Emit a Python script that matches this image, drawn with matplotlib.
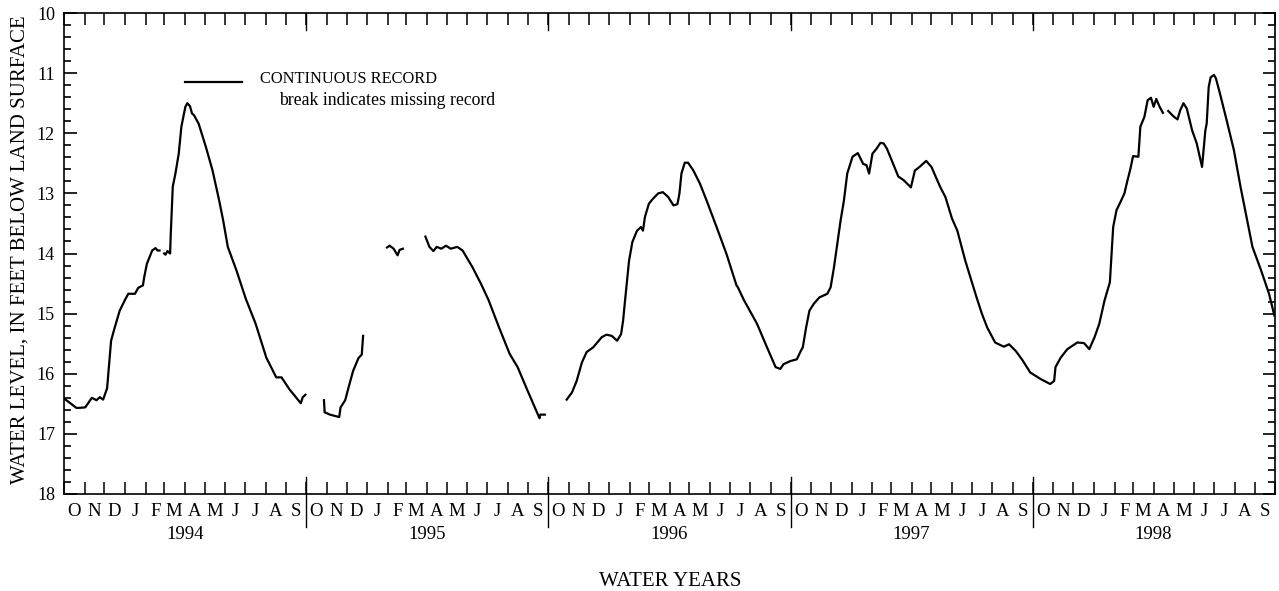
"""Ground-water level hydrograph, water years 1994-98."""

import matplotlib

matplotlib.use("Agg")
import matplotlib.dates as mdates
import matplotlib.pyplot as plt
import matplotlib.ticker as mticker
import numpy as np
import pandas as pd
from matplotlib.transforms import blended_transform_factory

nan = np.nan

# Readings (feet below land surface); nan marks missing record.
WY1994_DATES = [
    "1993-10-01", "1993-10-20", "1993-11-02", "1993-11-12", "1993-11-19", "1993-11-24",
    "1993-11-29", "1993-12-05", "1993-12-11", "1993-12-16", "1993-12-24", "1994-01-01",
    "1994-01-06", "1994-01-16", "1994-01-21", "1994-01-28", "1994-01-30", "1994-02-03",
    "1994-02-11", "1994-02-16", "1994-02-19", "1994-02-22", "1994-02-25", "1994-03-01",
    "1994-03-03", "1994-03-06", "1994-03-10", "1994-03-11", "1994-03-14", "1994-03-18",
    "1994-03-23", "1994-03-27", "1994-04-02", "1994-04-05", "1994-04-09", "1994-04-12",
    "1994-04-15", "1994-04-22", "1994-05-03", "1994-05-13", "1994-05-23", "1994-05-29",
    "1994-06-05", "1994-06-18", "1994-07-02", "1994-07-17", "1994-08-02", "1994-08-17",
    "1994-08-25", "1994-09-06", "1994-09-23", "1994-09-26", "1994-09-30",
]
WY1994_LEVELS = [
    16.41, 16.57, 16.56, 16.40, 16.44, 16.39,
    16.43, 16.24, 15.45, 15.25, 14.95, 14.77,
    14.67, 14.67, 14.57, 14.53, 14.39, 14.17,
    13.95, 13.91, 13.95, 13.95, nan, 14.00,
    14.02, 13.96, 14.00, 13.67, 12.89, 12.67,
    12.34, 11.89, 11.56, 11.50, 11.55, 11.67,
    11.70, 11.84, 12.23, 12.62, 13.12, 13.45,
    13.89, 14.28, 14.75, 15.17, 15.73, 16.06,
    16.06, 16.26, 16.49, 16.39, 16.35,
]

WY1995_DATES = [
    "1994-10-15", "1994-10-28", "1994-10-29", "1994-11-06", "1994-11-20", "1994-11-22",
    "1994-11-29", "1994-12-04", "1994-12-11", "1994-12-19", "1994-12-24", "1994-12-26",
    "1995-01-15", "1995-01-31", "1995-02-04", "1995-02-10", "1995-02-16", "1995-02-19",
    "1995-02-24", "1995-03-15", "1995-03-30", "1995-04-05", "1995-04-11", "1995-04-16",
    "1995-04-23", "1995-04-30", "1995-05-07", "1995-05-17", "1995-05-25", "1995-06-09",
    "1995-06-22", "1995-07-03", "1995-07-19", "1995-08-04", "1995-08-16", "1995-08-29",
    "1995-09-11", "1995-09-18", "1995-09-19", "1995-09-26",
]
WY1995_LEVELS = [
    nan, 16.44, 16.64, 16.68, 16.72, 16.56,
    16.44, 16.23, 15.95, 15.74, 15.68, 15.37,
    nan, 13.90, 13.87, 13.92, 14.03, 13.94,
    13.92, nan, 13.72, 13.89, 13.96, 13.89,
    13.92, 13.87, 13.92, 13.89, 13.95, 14.23,
    14.51, 14.77, 15.23, 15.67, 15.89, 16.23,
    16.56, 16.74, 16.68, 16.68,
]

WY1996_DATES = [
    "1995-10-15", "1995-10-29", "1995-11-06", "1995-11-13", "1995-11-21", "1995-11-28",
    "1995-12-08", "1995-12-21", "1995-12-28", "1996-01-05", "1996-01-13", "1996-01-19",
    "1996-01-22", "1996-01-25", "1996-01-31", "1996-02-05", "1996-02-12", "1996-02-18",
    "1996-02-21", "1996-02-24", "1996-03-01", "1996-03-07", "1996-03-15", "1996-03-22",
    "1996-03-30", "1996-04-07", "1996-04-13", "1996-04-16", "1996-04-19", "1996-04-24",
    "1996-04-29", "1996-05-07", "1996-05-17", "1996-05-27", "1996-06-11", "1996-06-26",
    "1996-07-11", "1996-07-13", "1996-07-22", "1996-08-11", "1996-08-26", "1996-09-08",
    "1996-09-15", "1996-09-20", "1996-09-30",
]
WY1996_LEVELS = [
    nan, 16.43, 16.31, 16.12, 15.81, 15.64,
    15.56, 15.39, 15.35, 15.37, 15.45, 15.34,
    15.12, 14.78, 14.12, 13.81, 13.62, 13.56,
    13.62, 13.39, 13.17, 13.09, 13.00, 12.98,
    13.06, 13.20, 13.18, 13.00, 12.67, 12.49,
    12.49, 12.62, 12.84, 13.12, 13.56, 14.01,
    14.53, 14.56, 14.77, 15.17, 15.56, 15.89,
    15.92, 15.84, 15.79,
]

WY1997_DATES = [
    "1996-10-10", "1996-10-16", "1996-10-19", "1996-10-24", "1996-10-29", "1996-11-05",
    "1996-11-13", "1996-11-25", "1996-11-30", "1996-12-05", "1996-12-10", "1996-12-15",
    "1996-12-20", "1996-12-25", "1997-01-02", "1997-01-10", "1997-01-18", "1997-01-23",
    "1997-01-27", "1997-02-01", "1997-02-07", "1997-02-13", "1997-02-18", "1997-02-23",
    "1997-03-02", "1997-03-12", "1997-03-20", "1997-03-31", "1997-04-06", "1997-04-13",
    "1997-04-23", "1997-05-01", "1997-05-14", "1997-05-22", "1997-06-01", "1997-06-09",
    "1997-06-21", "1997-07-08", "1997-07-16", "1997-07-24", "1997-08-05", "1997-08-18",
    "1997-08-26", "1997-09-05", "1997-09-15", "1997-09-27",
]
WY1997_LEVELS = [
    15.76, 15.62, 15.56, 15.23, 14.95, 14.83,
    14.73, 14.67, 14.56, 14.23, 13.84, 13.45,
    13.12, 12.67, 12.39, 12.33, 12.51, 12.53,
    12.67, 12.34, 12.26, 12.16, 12.17, 12.26,
    12.45, 12.72, 12.78, 12.90, 12.62, 12.56,
    12.46, 12.56, 12.89, 13.06, 13.42, 13.62,
    14.12, 14.73, 15.00, 15.23, 15.48, 15.55,
    15.51, 15.62, 15.77, 15.98,
]

WY1998_DATES = [
    "1997-10-13", "1997-10-27", "1997-11-02", "1997-11-04", "1997-11-12", "1997-11-22",
    "1997-12-07", "1997-12-17", "1997-12-25", "1998-01-02", "1998-01-09", "1998-01-17",
    "1998-01-25", "1998-01-27", "1998-01-30", "1998-02-04", "1998-02-11", "1998-02-16",
    "1998-02-20", "1998-02-25", "1998-03-01", "1998-03-09", "1998-03-12", "1998-03-18",
    "1998-03-23", "1998-03-28", "1998-04-01", "1998-04-05", "1998-04-10", "1998-04-15",
    "1998-04-19", "1998-04-23", "1998-05-01", "1998-05-07", "1998-05-11", "1998-05-16",
    "1998-05-21", "1998-05-29", "1998-06-05", "1998-06-13", "1998-06-18", "1998-06-20",
    "1998-06-23", "1998-06-26", "1998-07-01", "1998-07-04", "1998-07-10", "1998-07-20",
    "1998-07-31", "1998-08-10", "1998-08-20", "1998-08-28", "1998-09-10", "1998-09-22",
    "1998-09-30",
]
WY1998_LEVELS = [
    16.09, 16.17, 16.12, 15.89, 15.73, 15.59,
    15.48, 15.49, 15.59, 15.39, 15.17, 14.78,
    14.48, 14.12, 13.56, 13.28, 13.12, 13.00,
    12.81, 12.59, 12.38, 12.39, 11.89, 11.73,
    11.45, 11.41, 11.56, 11.43, 11.56, 11.66,
    nan, 11.63, 11.72, 11.77, 11.62, 11.50,
    11.59, 11.95, 12.17, 12.56, 11.95, 11.84,
    11.23, 11.07, 11.03, 11.09, 11.34, 11.78,
    12.28, 12.89, 13.45, 13.89, 14.28, 14.67,
    15.03,
]

MONTH_LETTERS = ["O", "N", "D", "J", "F", "M", "A", "M", "J", "J", "A", "S"]
WATER_YEARS = [1994, 1995, 1996, 1997, 1998]
Y_TICKS = [10, 11, 12, 13, 14, 15, 16, 17, 18]


def _record() -> pd.Series:
    dates = WY1994_DATES + WY1995_DATES + WY1996_DATES + WY1997_DATES + WY1998_DATES
    levels = WY1994_LEVELS + WY1995_LEVELS + WY1996_LEVELS + WY1997_LEVELS + WY1998_LEVELS
    return pd.Series(levels, index=pd.to_datetime(dates), dtype=float)


def plot_hydrograph(out_path: str = "out.png") -> None:
    plt.rcParams["font.family"] = ["Liberation Serif", "DejaVu Serif"]
    fig = plt.figure(figsize=(12.79, 5.91), dpi=100)
    ax = fig.add_axes([64 / 1279, 97 / 591, 1211 / 1279, 481 / 591])

    rec = _record()
    ax.plot(rec.index, rec.values, color="black", linewidth=1.6)

    first_wy, last_wy = WATER_YEARS[0], WATER_YEARS[-1]
    start = pd.Timestamp(f"{first_wy - 1}-10-01")
    end = pd.Timestamp(f"{last_wy}-10-01")
    ax.set_xlim(start, end)
    ax.set_ylim(Y_TICKS[-1], Y_TICKS[0])

    for side in ax.spines.values():
        side.set_linewidth(1.2)

    # x: month boundaries as ticks, letters centred in each month
    month_starts = pd.date_range(start, end, freq="MS")
    month_mids = month_starts[:-1] + pd.Timedelta(days=15)
    ax.xaxis.set_major_locator(mticker.FixedLocator(mdates.date2num(month_starts)))
    ax.xaxis.set_major_formatter(mticker.NullFormatter())
    ax.xaxis.set_minor_locator(mticker.FixedLocator(mdates.date2num(month_mids)))
    ax.xaxis.set_minor_formatter(mticker.FixedFormatter(MONTH_LETTERS * len(WATER_YEARS)))
    ax.tick_params(axis="x", which="major", direction="in", top=True, length=8.4, width=1.1)
    ax.tick_params(axis="x", which="minor", length=0, pad=6.5, labelsize=13.5)

    # y: feet below land surface, minor every 0.2 ft
    ax.yaxis.set_major_locator(mticker.FixedLocator(Y_TICKS))
    ax.yaxis.set_minor_locator(mticker.FixedLocator(np.arange(Y_TICKS[0], Y_TICKS[-1], 0.2)))
    ax.tick_params(axis="y", which="major", direction="in", left=True, right=True,
                   length=9, width=1.2, pad=6.5, labelsize=13)
    ax.tick_params(axis="y", which="minor", direction="in", left=True, right=True,
                   length=5, width=1.2)

    # water-year dividers and year labels
    trans = blended_transform_factory(ax.transData, ax.transAxes)
    for wy in WATER_YEARS[1:]:
        x = mdates.date2num(pd.Timestamp(f"{wy - 1}-10-01"))
        ax.plot([x, x], [-0.069, 0.036], color="black", linewidth=1.0, transform=trans,
                clip_on=False)
        ax.plot([x, x], [0.964, 1.0], color="black", linewidth=1.0, transform=trans,
                clip_on=False)
    for wy in WATER_YEARS:
        x = mdates.date2num(pd.Timestamp(f"{wy}-04-01"))
        ax.text(x, -0.084, str(wy), transform=trans, ha="center", va="center", fontsize=13.5)

    # legend drawn by hand
    ax.plot([0.0999, 0.147], [0.857, 0.857], color="black", linewidth=1.6,
            transform=ax.transAxes)
    ax.text(0.162, 0.862, "CONTINUOUS RECORD", transform=ax.transAxes, ha="left",
            va="center", fontsize=11.8)
    ax.text(0.1775, 0.818, "break indicates missing record", transform=ax.transAxes,
            ha="left", va="center", fontsize=12.8)

    fig.text(20 / 1279, 1 - 250 / 591, "WATER LEVEL, IN FEET BELOW LAND SURFACE",
             rotation=90, ha="center", va="center", fontsize=15)
    fig.text(670 / 1279, 1 - 581 / 591, "WATER YEARS", ha="center", va="center", fontsize=15)

    fig.savefig(out_path, dpi=100)
    plt.close(fig)


def main() -> None:
    plot_hydrograph("out.png")


if __name__ == "__main__":
    main()
